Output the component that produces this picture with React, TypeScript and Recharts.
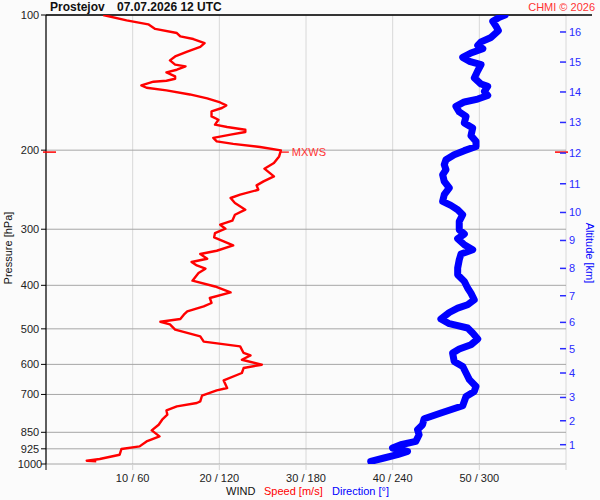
import React from 'react';
import {
  ScatterChart,
  Scatter,
  XAxis,
  YAxis,
  CartesianGrid,
  ReferenceLine,
  ReferenceDot,
} from 'recharts';

// ---- data ----
const speedLevels = [
  100, 102.8, 104.9, 107.4, 109.7, 111.6, 113.1, 115.5, 117.8, 120.7, 123.7, 126.2, 129.0, 130.1,
  132.4, 134.2, 137.0, 138.7, 140.1, 140.8, 143.5, 145.2, 147.2, 150.3, 153.4, 156.6, 159.0, 161.1,
  163.9, 168.2, 171.1, 175.5, 177.6, 180.1, 182.2, 184.7, 187.8, 191.2, 193.7, 196.8, 200.2, 206.5,
  213.6, 219.9, 228.8, 234.7, 239.6, 245.0, 251.3, 255.6, 262.3, 271.4, 278.5, 287.2, 293.1, 299.2,
  305.9, 312.9, 319.4, 326.0, 335.0, 340.7, 349.0, 354.9, 361.2, 367.3, 375.5, 390.6, 402.4, 414.9,
  426.9, 437.9, 445.7, 457.3, 465.1, 475.5, 482.1, 488.8, 502.2, 519.7, 534.0, 547.1, 565.9, 573.0,
  585.8, 601.0, 611.3, 627.1, 651.4, 677.3, 685.7, 704.6, 725.5, 731.4, 744.3, 759.7, 776.7, 796.8,
  817.5, 841.8, 868.0, 890.6, 913.7, 926.0, 953.5, 974.8, 983.3, 986.8,
];
const speedValues = [
  6.6, 9.3, 11.8, 12.6, 15.1, 15.5, 17.0, 18.3, 17.8, 16.3, 14.9, 14.3, 14.9, 16.1,
  15.1, 13.9, 14.9, 14.9, 13.9, 12.4, 11.0, 11.6, 13.9, 16.6, 18.6, 20.1, 20.8, 20.3,
  19.1, 19.1, 19.9, 19.5, 20.9, 23.0, 23.0, 21.3, 19.3, 19.7, 21.6, 24.7, 27.1, 26.9,
  26.3, 25.2, 26.3, 25.1, 24.3, 24.5, 22.4, 21.3, 21.8, 23.0, 21.8, 21.5, 20.1, 20.7,
  19.5, 19.4, 20.5, 21.6, 19.7, 17.8, 18.6, 16.8, 17.4, 18.4, 17.6, 16.9, 19.5, 21.3,
  18.9, 19.1, 18.2, 16.3, 15.9, 15.5, 13.2, 14.3, 14.9, 17.8, 18.2, 22.4, 22.8, 23.6,
  22.6, 24.9, 22.8, 22.6, 20.5, 20.9, 19.7, 18.0, 17.8, 17.4, 15.1, 13.9, 14.0, 13.4,
  13.0, 12.2, 13.1, 11.6, 10.8, 8.7, 8.5, 6.2, 4.7, 5.8,
];

const directionLevels = [
  100, 101.2, 103.3, 106.0, 108.4, 112.2, 114.8, 116.9, 118.9, 121.5, 124.3, 126.8, 129.0, 133.1,
  138.1, 142.5, 144.2, 148.0, 151.1, 153.9, 156.2, 159.8, 164.4, 168.2, 174.0, 178.5, 185.7, 191.2,
  196.2, 200.5, 204.7, 210.1, 215.5, 221.1, 226.8, 234.7, 242.8, 251.3, 260.1, 265.5, 271.4, 278.5,
  288.2, 300.8, 307.5, 314.9, 324.8, 333.3, 340.7, 350.8, 366.0, 378.8, 392.0, 405.5, 416.2, 430.6,
  441.9, 449.5, 459.8, 475.5, 487.0, 497.9, 510.8, 526.7, 542.4, 554.5, 565.9, 590.9, 606.4, 627.1,
  648.9, 671.8, 689.3, 707.2, 741.6, 769.8, 792.8, 817.5, 838.8, 860.6, 890.6, 905.8, 921.3, 937.4,
  953.5, 969.7, 986.8,
];
const directionValues = [
  317.8, 313.9, 309.3, 311.6, 313.2, 308.1, 301.2, 298.9, 302.4, 294.2, 288.5, 293.1, 301.2, 298.9,
  296.5, 301.2, 305.8, 303.5, 305.8, 298.9, 289.6, 283.8, 286.1, 290.8, 289.6, 295.4, 294.2, 297.7,
  297.7, 289.6, 282.6, 276.9, 275.7, 276.9, 274.6, 275.7, 279.2, 275.7, 274.6, 280.3, 285.0, 288.5,
  286.1, 286.1, 289.6, 285.0, 289.6, 295.4, 287.3, 286.1, 285.0, 285.0, 289.6, 291.9, 294.2, 296.5,
  291.9, 285.0, 279.2, 273.4, 279.2, 291.9, 295.4, 298.9, 294.2, 286.1, 281.5, 282.6, 288.5, 290.8,
  293.1, 297.7, 296.5, 290.8, 288.5, 273.4, 261.8, 260.7, 257.2, 258.3, 256.0, 245.6, 239.9, 250.3,
  243.3, 234.0, 224.8,
];

const pressureTicks = [100, 200, 300, 400, 500, 600, 700, 850, 925, 1000];
const speedTicks = [0, 10, 20, 30, 40, 50, 60];
const altitudeKm = [1, 2, 3, 4, 5, 6, 7, 8, 9, 10, 11, 12, 13, 14, 15, 16];
const altitudePressures = [
  905.8, 801.1, 710.9, 627.1, 553.6, 483.7, 421.9, 366.7, 317.8, 275.3, 237.6, 203.0, 173.5, 148.4,
  127.3, 109.1,
];
const mxwsSpeed = 27.1;
const mxwsPressure = 202;
const speedMax = 60;
const directionMax = 360;
const frameRightSpeed = 63;

const speedData = speedLevels.map((p, i) => ({ p, x: speedValues[i] }));
const directionData = directionLevels.map((p, i) => ({ p, x: directionValues[i] }));

const FONT = '"Liberation Sans", Arial, Helvetica, sans-serif';
const RED = '#ff0000';
const LIGHT_RED = '#ff3333';
const BLUE = '#0000ff';
const TICK_BLUE = '#2a2aff';

const NoShape = () => <g />;

const SpeedTick = (props: any) => {
  const { x, y, payload } = props;
  const v = payload.value;
  const isEdge = v === 0 || v === speedMax;
  return (
    <g>
      <line x1={x} x2={x} y1={y} y2={y + 6} stroke={v === 0 ? '#000' : '#d4d4d4'} strokeWidth={1} />
      {!isEdge && (
        <text x={x} y={y + 18} textAnchor="middle" fontSize={11} fontFamily={FONT} fill="#222">
          {`${v} / ${v * 6}`}
        </text>
      )}
    </g>
  );
};

const PressureTick = (props: any) => {
  const { x, y, payload } = props;
  return (
    <text x={x - 9} y={y + 4} textAnchor="middle" fontSize={11} fontFamily={FONT} fill="#222">
      {payload.value}
    </text>
  );
};

const AltTick = (props: any) => {
  const { x, y, payload } = props;
  const idx = altitudePressures.indexOf(payload.value);
  return (
    <g>
      <line x1={x - 9} x2={x - 3} y1={y} y2={y} stroke={TICK_BLUE} strokeWidth={1.5} />
      <text x={x} y={y + 4} textAnchor="start" fontSize={11} fontFamily={FONT} fill={TICK_BLUE}>
        {altitudeKm[idx]}
      </text>
    </g>
  );
};

const MxwsMark = (props: any) => {
  const { cx, cy } = props;
  return (
    <g>
      <line x1={cx} x2={cx + 8} y1={cy} y2={cy} stroke={RED} strokeWidth={1.2} />
      <text x={cx + 11} y={cy + 4} fontSize={11} fontFamily={FONT} fill={LIGHT_RED}>
        MXWS
      </text>
    </g>
  );
};

const LeftMark = (props: any) => (
  <line x1={props.cx - 3} x2={props.cx + 10} y1={props.cy} y2={props.cy} stroke={RED} strokeWidth={1.5} />
);
const RightMark = (props: any) => (
  <line x1={props.cx - 11} x2={props.cx + 2} y1={props.cy} y2={props.cy} stroke={RED} strokeWidth={1.5} />
);

export default function App() {
  return (
    <div
      style={{
        position: 'fixed',
        left: 0,
        top: 0,
        width: 600,
        height: 500,
        background: '#fbfbfb',
        fontFamily: FONT,
      }}
    >
      <ScatterChart width={600} height={500} margin={{ top: 15, right: 0, bottom: 0, left: 0 }}>
        <CartesianGrid horizontal={false} stroke="#d8d8d8" strokeWidth={1} />
        <CartesianGrid vertical={false} stroke="#a6a6a6" strokeWidth={1} />
        <XAxis
          type="number"
          dataKey="x"
          domain={[0, speedMax]}
          ticks={speedTicks}
          interval={0}
          allowDataOverflow
          axisLine={false}
          tickLine={false}
          tickSize={0}
          tickMargin={0}
          height={36}
          tick={<SpeedTick />}
        />
        <XAxis
          xAxisId="dir"
          type="number"
          dataKey="x"
          domain={[0, directionMax]}
          allowDataOverflow
          hide
        />
        <YAxis
          type="number"
          dataKey="p"
          scale="log"
          domain={[100, 1000]}
          allowDataOverflow
          reversed
          ticks={pressureTicks}
          interval={0}
          width={46}
          axisLine={{ stroke: '#000', strokeWidth: 1.2 }}
          tickLine={{ stroke: '#000' }}
          tickSize={5}
          tickMargin={2}
          tick={<PressureTick />}
        />
        <YAxis
          yAxisId="alt"
          orientation="right"
          type="number"
          scale="log"
          domain={[100, 1000]}
          allowDataOverflow
          reversed
          ticks={altitudePressures}
          interval={0}
          width={34}
          axisLine={false}
          tickLine={false}
          tickSize={0}
          tickMargin={3}
          tick={<AltTick />}
        />
        <Scatter
          data={speedData}
          line={{ stroke: RED, strokeWidth: 2.4, strokeLinejoin: 'round' }}
          shape={<NoShape />}
          isAnimationActive={false}
        />
        <Scatter
          data={directionData}
          xAxisId="dir"
          line={{ stroke: BLUE, strokeWidth: 7, strokeLinejoin: 'round', strokeLinecap: 'round' }}
          shape={<NoShape />}
          isAnimationActive={false}
        />
        <ReferenceLine
          segment={[
            { x: 0, y: 100 },
            { x: frameRightSpeed, y: 100 },
          ]}
          stroke="#000"
          strokeWidth={1.4}
          ifOverflow="visible"
        />
        <ReferenceDot x={mxwsSpeed} y={mxwsPressure} shape={<MxwsMark />} ifOverflow="visible" />
        <ReferenceDot x={0} y={mxwsPressure} shape={<LeftMark />} ifOverflow="visible" />
        <ReferenceDot x={speedMax} y={mxwsPressure} shape={<RightMark />} ifOverflow="visible" />
      </ScatterChart>
      <svg
        width={600}
        height={500}
        style={{ position: 'absolute', left: 0, top: 0, pointerEvents: 'none' }}
        fontFamily={FONT}
      >
        <text x={50} y={11} fontSize={12} fontWeight="bold" fill="#111">
          Prostejov
        </text>
        <text x={117} y={11} fontSize={12} fontWeight="bold" fill="#111">
          07.07.2026 12 UTC
        </text>
        <text x={595} y={11} fontSize={11} textAnchor="end" fill={LIGHT_RED}>
          CHMI © 2026
        </text>
        <text x={226} y={495} fontSize={11} fill="#111">
          WIND
        </text>
        <text x={264} y={495} fontSize={11} fill={RED}>
          Speed [m/s]
        </text>
        <text x={332} y={495} fontSize={11} fill={BLUE}>
          Direction [°]
        </text>
        <text
          x={12}
          y={248}
          fontSize={11}
          textAnchor="middle"
          fill="#111"
          transform="rotate(-90, 12, 248)"
        >
          Pressure [hPa]
        </text>
        <text
          x={586}
          y={253}
          fontSize={11}
          textAnchor="middle"
          fill={BLUE}
          transform="rotate(90, 586, 253)"
        >
          Altitude [km]
        </text>
      </svg>
    </div>
  );
}
